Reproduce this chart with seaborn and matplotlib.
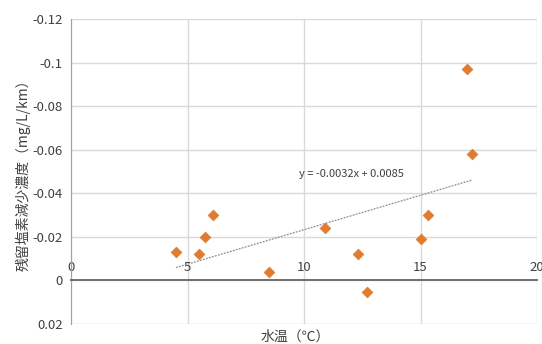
import matplotlib
matplotlib.use("Agg")
import matplotlib.pyplot as plt
import seaborn as sns
import pandas as pd

# data
water_temp = [4.5, 5.5, 5.75, 6.1, 8.5, 10.9, 12.3, 12.7, 15.0, 15.3, 17.0, 17.2]
decrease = [-0.013, -0.012, -0.020, -0.030, -0.004, -0.024, -0.012, 0.0055, -0.019, -0.030, -0.097, -0.058]
x_ticks = [0, 5, 10, 15, 20]
y_ticks = [-0.12, -0.1, -0.08, -0.06, -0.04, -0.02, 0, 0.02]
y_tick_labels = ["-0.12", "-0.1", "-0.08", "-0.06", "-0.04", "-0.02", "0", "0.02"]
trend_label = "y = -0.0032x + 0.0085"

df = pd.DataFrame({"temp": water_temp, "dec": decrease})

sns.set_style("white")
plt.rcParams["font.family"] = ["Noto Sans CJK JP", "DejaVu Sans"]

fig = plt.figure(figsize=(5.42, 3.44), dpi=100)
ax = fig.add_axes([0.131, 0.058, 0.86, 0.887])

# trend line (linear fit over the data range)
sns.regplot(x="temp", y="dec", data=df, scatter=False, ci=None, ax=ax,
            line_kws={"color": "#8c8c8c", "lw": 0.9, "ls": (0, (1.5, 1))})
sns.scatterplot(x="temp", y="dec", data=df, marker="D", s=30, color="#E07B30",
                edgecolor="#E07B30", linewidth=0.5, ax=ax, zorder=3)

ax.set_xlim(0, 20)
ax.set_ylim(0.02, -0.12)
ax.set_xticks(x_ticks)
ax.set_yticks(y_ticks)
ax.set_yticklabels(y_tick_labels)
ax.grid(True, color="#d9d9d9", lw=1.0)

# x axis crosses at y = 0, labels drawn above it
for s in ["bottom", "right"]:
    ax.spines[s].set_visible(False)
ax.spines["top"].set_position(("data", 0))
ax.spines["top"].set_color("#6f6f6f")
ax.spines["top"].set_linewidth(1.4)
ax.spines["left"].set_color("#a0a0a0")
ax.xaxis.set_ticks_position("top")
ax.tick_params(axis="x", length=0, pad=5, labelsize=9.5, colors="#404040")
ax.tick_params(axis="y", length=4, width=0.8, color="#a0a0a0", pad=2, labelsize=9.5, labelcolor="#404040")
ax.set_axisbelow(True)

ax.text(12.05, -0.049, trend_label, ha="center", va="center", fontsize=8, color="#404040")

ax.set_xlabel("")
ax.set_ylabel("残留塩素減少濃度（mg/L/km）", fontsize=10, color="#404040", labelpad=1)
fig.text(0.545, 0.0, "水温（℃）", ha="center", va="bottom", fontsize=10, color="#404040")

fig.savefig("out.png", dpi=100)
